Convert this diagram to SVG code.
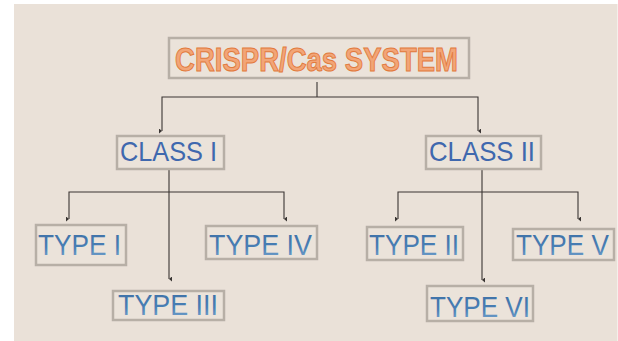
<svg xmlns="http://www.w3.org/2000/svg" width="618" height="341" viewBox="0 0 618 341">
<defs>
<style>
.box{fill:#EBE3DA;stroke:#B7AFA6;stroke-width:2.5}
.conn{fill:none;stroke:#3A3533;stroke-width:1.1}
.cls{font-family:"Liberation Sans",Arial,sans-serif;font-size:28px;fill:#3F68AE}
.typ{font-family:"Liberation Sans",Arial,sans-serif;font-size:30px;fill:url(#tg)}
.top{font-family:"Liberation Sans",Arial,sans-serif;font-weight:bold;font-size:33px;fill:#F2A577;stroke:#E27A3C;stroke-width:1}
</style>
<linearGradient id="tg" x1="0" y1="0" x2="0" y2="1">
<stop offset="0" stop-color="#3B6DA3"/>
<stop offset="0.6" stop-color="#4A80B6"/>
<stop offset="1" stop-color="#7FAAD0"/>
</linearGradient>
<marker id="arr" markerWidth="5" markerHeight="5" refX="2.5" refY="4" orient="auto" markerUnits="userSpaceOnUse">
<path d="M0,1 L5,1 L2.5,4 Z" fill="#3A3533"/>
</marker>
</defs>
<rect x="0" y="0" width="618" height="341" fill="#FFFFFF"/>
<rect x="14" y="4" width="603.5" height="337" fill="#EAE1D8"/>
<g id="connectors">
<path class="conn" d="M317,82 V97"/>
<path class="conn" d="M162,131 V97 H478 V131" marker-start="url(#arr)" marker-end="url(#arr)"/>
<path class="conn" d="M169,170 V279" marker-end="url(#arr)"/>
<path class="conn" d="M69,219 V192 H284 V219" marker-start="url(#arr)" marker-end="url(#arr)"/>
<path class="conn" d="M482,170 V280" marker-end="url(#arr)"/>
<path class="conn" d="M398,219 V192 H578 V219" marker-start="url(#arr)" marker-end="url(#arr)"/>
</g>
<g id="crispr">
<rect class="box" x="169" y="38" width="300" height="40"/>
<text class="top" x="175" y="71" textLength="283" lengthAdjust="spacingAndGlyphs">CRISPR/Cas SYSTEM</text>
</g>
<g id="class1">
<rect class="box" x="117" y="136" width="107" height="33"/>
<text class="cls" x="120" y="161" textLength="97" lengthAdjust="spacingAndGlyphs">CLASS I</text>
</g>
<g id="class2">
<rect class="box" x="426" y="136" width="115" height="33"/>
<text class="cls" x="429" y="161" textLength="106" lengthAdjust="spacingAndGlyphs">CLASS II</text>
</g>
<g id="type1">
<rect class="box" x="36" y="225" width="90" height="40"/>
<text class="typ" x="38" y="255" textLength="83" lengthAdjust="spacingAndGlyphs">TYPE I</text>
</g>
<g id="type4">
<rect class="box" x="206" y="226" width="111" height="33"/>
<text class="typ" x="209" y="255" textLength="103" lengthAdjust="spacingAndGlyphs">TYPE IV</text>
</g>
<g id="type3">
<rect class="box" x="113" y="291" width="111" height="29"/>
<text class="typ" x="118" y="315" textLength="100" lengthAdjust="spacingAndGlyphs">TYPE III</text>
</g>
<g id="type2">
<rect class="box" x="367" y="227" width="96" height="33"/>
<text class="typ" x="369" y="255" textLength="90" lengthAdjust="spacingAndGlyphs">TYPE II</text>
</g>
<g id="type5">
<rect class="box" x="513" y="229" width="101" height="31"/>
<text class="typ" transform="translate(516,255) scale(0.87,1)" x="0" y="0">TYPE V</text>
</g>
<g id="type6">
<rect class="box" x="427" y="286" width="106" height="35"/>
<text class="typ" x="430" y="317" textLength="100" lengthAdjust="spacingAndGlyphs">TYPE VI</text>
</g>
</svg>
